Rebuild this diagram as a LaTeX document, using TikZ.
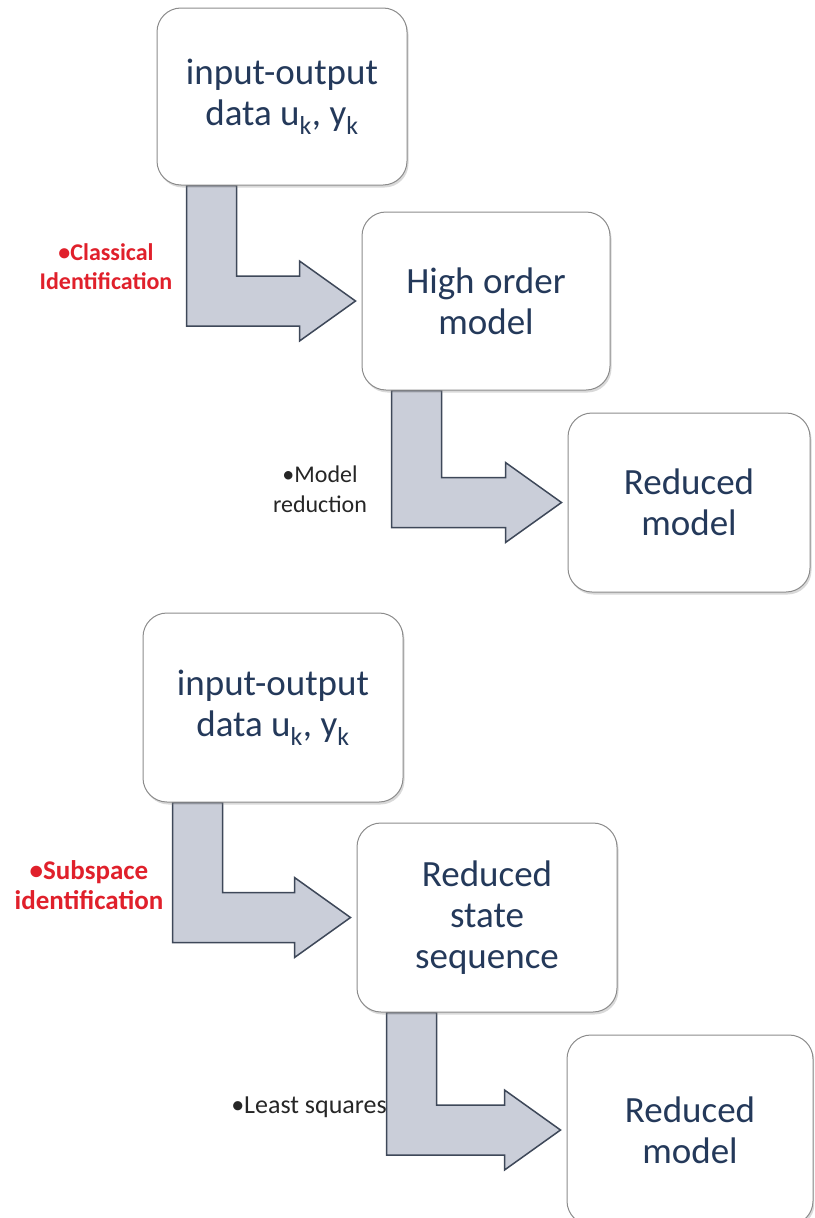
\documentclass[tikz,border=0pt]{standalone}
\usepackage{fontspec}
\setmainfont{Carlito}
\usetikzlibrary{calc,shadows,backgrounds}

\definecolor{BoxText}{HTML}{24395A}
\definecolor{BoxLine}{HTML}{8C8C8C}
\definecolor{ArrowFill}{HTML}{CACED9}
\definecolor{ArrowLine}{HTML}{3E4859}
\definecolor{LabelRed}{HTML}{E0202B}

\tikzset{
    StepBox/.style={draw=BoxLine, line width=1pt, fill=white, rounded corners=24pt,
        drop shadow={shadow xshift=1.5pt, shadow yshift=-2.5pt, opacity=0.3},
        text=BoxText, align=center, inner sep=0pt,
        font=\fontsize{37}{41}\selectfont},
    BentArrow/.style={fill=ArrowFill, draw=ArrowLine, line width=1.5pt, line join=miter},
    RedLabel/.style={text=LabelRed, align=center, font=\bfseries\fontsize{24}{29}\selectfont},
    BlackLabel/.style={text=black!85, align=center, font=\fontsize{24}{30}\selectfont},
}

% bent block arrow: down out of #1, then right into #2
\newcommand{\bentarrow}[2]{%
    \filldraw[BentArrow] let \p1=(#1.south west), \p2=(#2.west) in
        (\x1+30pt,\y1) -- (\x1+80pt,\y1) -- (\x1+80pt,\y2+25pt)
        -- (\x2-62pt,\y2+25pt) -- (\x2-62pt,\y2+40pt) -- (\x2-6pt,\y2)
        -- (\x2-62pt,\y2-40pt) -- (\x2-62pt,\y2-25pt) -- (\x1+30pt,\y2-25pt) -- cycle;}

\begin{document}
\begin{tikzpicture}[x=1pt, y=-1pt]

    \useasboundingbox (0,0) rectangle (814,1218);
    \clip (0,0) rectangle (814,1218);

    % classical route
    \node[StepBox, minimum width=250pt, minimum height=177pt] (data1) at (282,96.5)
        {input-output\\data u\textsubscript{k}, y\textsubscript{k}};
    \node[StepBox, minimum width=248pt, minimum height=178pt] (high) at (486,301)
        {High order\\model};
    \node[StepBox, minimum width=242pt, minimum height=179pt] (reduced1) at (689,502.5)
        {Reduced\\model};

    \node[RedLabel] (classical) at (106,267) {\textbullet Classical\\Identification};
    \node[BlackLabel] (modelred) at (320,489) {\textbullet Model\\reduction};

    % subspace route
    \node[StepBox, minimum width=260pt, minimum height=189pt] (data2) at (273,707.5)
        {input-output\\data u\textsubscript{k}, y\textsubscript{k}};
    \node[StepBox, minimum width=260pt, minimum height=189pt] (state) at (487,917.5)
        {Reduced\\state\\sequence};
    \node[StepBox, minimum width=246pt, minimum height=190pt] (reduced2) at (690,1130)
        {Reduced\\model};

    \node[RedLabel, font=\bfseries\fontsize{27}{30}\selectfont] (subspace) at (89,885)
        {\textbullet Subspace\\identification};
    \node[BlackLabel, font=\fontsize{26}{30}\selectfont] (lsq) at (309,1107)
        {\textbullet Least squares};

    \begin{scope}[on background layer]
        \bentarrow{data1}{high}
        \bentarrow{high}{reduced1}
        \bentarrow{data2}{state}
        \bentarrow{state}{reduced2}
    \end{scope}
\end{tikzpicture}
\end{document}
